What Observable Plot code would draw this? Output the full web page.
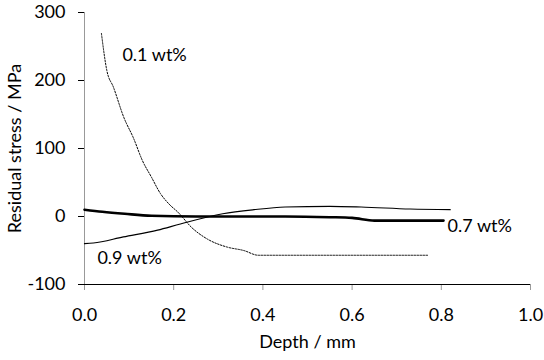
<!DOCTYPE html>
<html>
<head>
<meta charset="utf-8">
<script src="https://cdn.jsdelivr.net/npm/d3@7"></script>
<script src="https://cdn.jsdelivr.net/npm/@observablehq/plot@0.6"></script>
<style>
  html, body { margin: 0; padding: 0; background: #fff; }
  #chart svg { display: block; }
</style>
</head>
<body>
<div id="chart"></div>
<script>
// Series: 0.1 wt% (dotted)
const depth01  = [0.038, 0.05, 0.065, 0.088, 0.11, 0.13, 0.15, 0.17, 0.19, 0.21, 0.24, 0.275, 0.32, 0.357, 0.39, 0.45, 0.55, 0.65, 0.77];
const stress01 = [269, 215, 190, 146, 115, 82, 58, 34, 18, 6, -16, -33, -45, -50, -57, -57, -57, -57, -57];
// Series: 0.7 wt% (thick)
const depth07  = [0, 0.04, 0.09, 0.15, 0.25, 0.35, 0.45, 0.55, 0.6, 0.65, 0.7, 0.805];
const stress07 = [10, 7, 4, 1, 0, 0, 0, -1, -2, -6, -6, -6];
// Series: 0.9 wt% (thin)
const depth09  = [0, 0.02, 0.087, 0.164, 0.215, 0.31, 0.38, 0.45, 0.55, 0.62, 0.73, 0.82];
const stress09 = [-40, -39, -30, -20, -11, 4, 10, 14, 15, 14, 11, 10];

const seriesLabels = ["0.1 wt%", "0.7 wt%", "0.9 wt%"];
const labelX = [0.085, 0.814, 0.029];
const labelY = [237, -15, -62];

const xTicks = [0, 0.2, 0.4, 0.6, 0.8, 1.0];
const yTicks = [-100, 0, 100, 200, 300];
const xTitle = "Depth / mm";
const yTitle = "Residual stress / MPa";

const toRows = (xs, ys) => xs.map((d, i) => ({x: d, y: ys[i]}));
const s01 = toRows(depth01, stress01);
const s07 = toRows(depth07, stress07);
const s09 = toRows(depth09, stress09);
const labels = seriesLabels.map((t, i) => ({t, x: labelX[i], y: labelY[i]}));

const font = "Lato, 'Open Sans', sans-serif";
const fs = 18;

const chart = Plot.plot({
  width: 544,
  height: 360,
  marginLeft: 84,
  marginRight: 14,
  marginTop: 12,
  marginBottom: 76,
  style: {fontFamily: font, fontSize: fs + "px", color: "#000", background: "#fff"},
  x: {domain: [0, 1]},
  y: {domain: [-100, 300]},
  marks: [
    Plot.axisY({ticks: yTicks, tickSize: 6, tickPadding: 13, tickFormat: d => String(d), label: null, stroke: "#000", fontSize: fs}),
    Plot.axisX({ticks: xTicks, tickSize: 6, tickPadding: 18, tickFormat: d => d.toFixed(1), label: null, stroke: "#999", fontSize: fs}),
    Plot.ruleX([0], {stroke: "#999", strokeWidth: 1}),
    Plot.ruleY([-100], {stroke: "#000", strokeWidth: 1.2}),
    Plot.line(s01, {x: "x", y: "y", stroke: "#000", strokeWidth: 1, strokeDasharray: "1.5,1.5", curve: "monotone-x"}),
    Plot.line(s09, {x: "x", y: "y", stroke: "#000", strokeWidth: 1.2, curve: "monotone-x"}),
    Plot.line(s07, {x: "x", y: "y", stroke: "#000", strokeWidth: 2.6, curve: "monotone-x"}),
    Plot.text(labels, {x: "x", y: "y", text: "t", textAnchor: "start", fill: "#000", fontSize: fs}),
    Plot.text([xTitle], {frameAnchor: "bottom", dy: 63, fill: "#000", fontSize: fs}),
    Plot.text([yTitle], {frameAnchor: "left", dx: -69, rotate: -90, textAnchor: "middle", fill: "#000", fontSize: fs})
  ]
});
document.getElementById("chart").appendChild(chart);
</script>
</body>
</html>
